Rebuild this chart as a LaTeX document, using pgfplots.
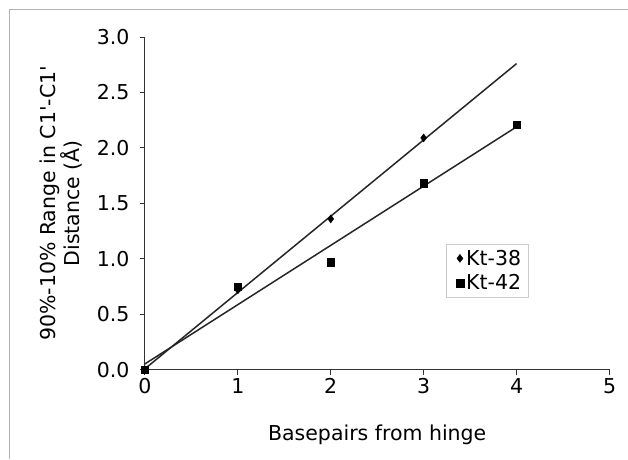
\documentclass[border=0pt]{standalone}
\usepackage{pgfplots}
\pgfplotsset{compat=1.18}
\usepackage{fontspec}
\setmainfont{DejaVu Sans}[Ligatures=TeXOff]
\begin{document}
\begin{tikzpicture}[x=1pt,y=1pt]
\path (0,0) rectangle (628,459);
\draw[gray!60, line width=1pt] (10,0) -- (10,449) -- (628,449);
\begin{axis}[
  at={(145pt,89pt)}, anchor=south west,
  scale only axis, width=465pt, height=333pt,
  xmin=0, xmax=5, ymin=0, ymax=3,
  axis x line*=bottom, axis y line*=left,
  xtick={0,1,2,3,4,5}, ytick={0,0.5,1,1.5,2,2.5,3},
  tick align=outside, major tick length=5pt,
  tick style={black!80, line width=0.9pt},
  axis line style={black!80, line width=1pt},
  /pgf/number format/assume math mode=true,
  y tick label style={xshift=-7pt, /pgf/number format/.cd, fixed, fixed zerofill, precision=1},
  ticklabel style={font=\fontsize{20.5}{24}\selectfont},
  xlabel={Basepairs from hinge},
  ylabel={90\%-10\% Range in C1'-C1'\\Distance (Å)},
  xlabel style={font=\fontsize{20.5}{24}\selectfont, at={(axis description cs:0.5,-0.195)}, anchor=center},
  ylabel style={font=\fontsize{20.5}{24}\selectfont, align=center, at={(axis description cs:-0.128,0.5)}, anchor=south, rotate=0},
  legend style={at={(axis cs:3.24,1.135)}, anchor=north west, draw=gray!40, font=\fontsize{20.5}{24}\selectfont, row sep=4pt, inner xsep=5pt, inner ysep=4pt},
  legend image code/.code={\node[draw=none, fill=none, inner sep=0pt, minimum width=13pt, minimum height=1pt, anchor=west] at (0pt,0pt) {}; \draw[#1] plot coordinates {(9pt,0pt)};},
  legend cell align=left,
  clip=false,
]
\addplot[black!85, line width=1.5pt, forget plot] coordinates {(0,0.008) (4,2.76)};
\addplot[black!85, line width=1.5pt, forget plot] coordinates {(0,0.052) (4,2.19)};
\addplot[only marks, mark=diamond*, mark size=4pt, black] coordinates {(0,0) (1,0.72) (2,1.36) (3,2.09)};
\addlegendentry{Kt-38}
\addplot[only marks, mark=square*, mark size=3.8pt, black] coordinates {(0,0) (1,0.75) (2,0.97) (3,1.68) (4,2.21)};
\addlegendentry{Kt-42}
\end{axis}
\end{tikzpicture}
\end{document}
